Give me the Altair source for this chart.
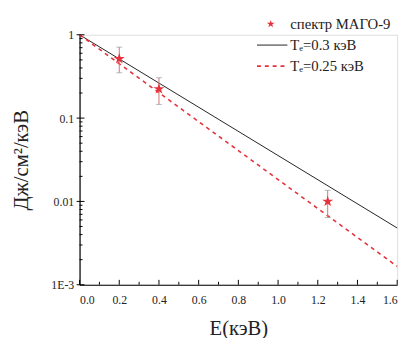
import altair as alt
import pandas as pd

# ---- data ----
exp_E = [0.2, 0.4, 1.25]
exp_val = [0.515, 0.224, 0.0100]
exp_lo = [0.35, 0.146, 0.0064]
exp_hi = [0.71, 0.305, 0.0136]

line_E = [0.0, 1.6]
fit_03 = [1.0, 0.0048]     # T_e = 0.3 keV
fit_025 = [1.0, 0.00166]   # T_e = 0.25 keV

x_major = [0.0, 0.2, 0.4, 0.6, 0.8, 1.0, 1.2, 1.4, 1.6]
x_minor = [0.1, 0.3, 0.5, 0.7, 0.9, 1.1, 1.3, 1.5]
y_major = [0.001, 0.01, 0.1, 1.0]
y_minor = [m * d for d in [0.001, 0.01, 0.1] for m in range(2, 10)]

legend_labels = ["спектр МАГО-9", "Tₑ=0.3 кэВ", "Tₑ=0.25 кэВ"]

W, H = 324, 255
RED = "#e5323c"
FONT = "Liberation Serif"

xs = alt.Scale(domain=[0, 1.6], nice=False, zero=False)
ys = alt.Scale(type="log", domain=[0.001, 1], nice=False)

df_exp = pd.DataFrame({"E": exp_E, "v": exp_val, "lo": exp_lo, "hi": exp_hi})
df_l1 = pd.DataFrame({"E": line_E, "v": fit_03})
df_l2 = pd.DataFrame({"E": line_E, "v": fit_025})

xaxis = alt.Axis(values=x_major, format=".1f", ticks=False, grid=False,
                 domainColor="black", domainWidth=1.2, labelFont=FONT, labelFontSize=12,
                 labelColor="#222", labelPadding=10, title="E(кэВ)", titleFont=FONT,
                 titleFontSize=21, titleFontWeight="normal", titleColor="#222", titlePadding=13)
yaxis = alt.Axis(values=y_major, ticks=False, grid=False,
                 labelExpr="datum.value >= 0.01 ? format(datum.value, '~g') : '1E-3'",
                 domainColor="black", domainWidth=1.2, labelFont=FONT, labelFontSize=12,
                 labelColor="#222", labelPadding=6, title="Дж/см²/кэВ", titleFont=FONT,
                 titleFontSize=21, titleFontWeight="normal", titleColor="#222", titlePadding=20)

line1 = alt.Chart(df_l1).mark_line(color="#222", strokeWidth=1).encode(
    x=alt.X("E:Q", scale=xs, axis=xaxis), y=alt.Y("v:Q", scale=ys, axis=yaxis))
line2 = alt.Chart(df_l2).mark_line(color=RED, strokeWidth=1.6, strokeDash=[4, 4]).encode(
    x=alt.X("E:Q", scale=xs), y=alt.Y("v:Q", scale=ys))

err = alt.Chart(df_exp).mark_rule(color="#c77", strokeWidth=1).encode(
    x=alt.X("E:Q", scale=xs), y=alt.Y("lo:Q", scale=ys), y2="hi:Q")
cap_hi = alt.Chart(df_exp).mark_tick(color="#999", orient="horizontal", size=6, thickness=1).encode(
    x=alt.X("E:Q", scale=xs), y=alt.Y("hi:Q", scale=ys))
cap_lo = alt.Chart(df_exp).mark_tick(color="#999", orient="horizontal", size=6, thickness=1).encode(
    x=alt.X("E:Q", scale=xs), y=alt.Y("lo:Q", scale=ys))

STAR = "M0,-1L0.2245,-0.309L0.9511,-0.309L0.3633,0.118L0.5878,0.809L0,0.382L-0.5878,0.809L-0.3633,0.118L-0.9511,-0.309L-0.2245,-0.309Z"
pts = alt.Chart(df_exp).mark_point(shape=STAR, filled=True, color=RED, size=140, opacity=1).encode(
    x=alt.X("E:Q", scale=xs), y=alt.Y("v:Q", scale=ys))

# inner ticks
df_xM = pd.DataFrame({"t": x_major})
df_xm = pd.DataFrame({"t": x_minor})
df_yM = pd.DataFrame({"t": y_major})
df_ym = pd.DataFrame({"t": y_minor})
xt_major = alt.Chart(df_xM).mark_rule(color="black", strokeWidth=1).encode(
    x=alt.X("t:Q", scale=xs), y=alt.value(H), y2=alt.value(H - 5))
xt_minor = alt.Chart(df_xm).mark_rule(color="black", strokeWidth=1).encode(
    x=alt.X("t:Q", scale=xs), y=alt.value(H), y2=alt.value(H - 3))
yt_major = alt.Chart(df_yM).mark_rule(color="black", strokeWidth=1).encode(
    y=alt.Y("t:Q", scale=ys), x=alt.value(-3), x2=alt.value(5))
yt_minor = alt.Chart(df_ym).mark_rule(color="black", strokeWidth=1).encode(
    y=alt.Y("t:Q", scale=ys), x=alt.value(0), x2=alt.value(3))

# legend
LX, LY, DY = 215, -11, 21.5
one = pd.DataFrame({"k": [0]})
leg_layers = []
for i, lab in enumerate(legend_labels):
    leg_layers.append(
        alt.Chart(one).mark_text(align="left", baseline="middle", font=FONT, fontSize=15,
                                 color="#222", text=lab).encode(
            x=alt.value(LX), y=alt.value(LY + i * DY)))
leg_star = alt.Chart(one).mark_point(shape=STAR, filled=True, color=RED, size=70, opacity=1).encode(
    x=alt.value(195), y=alt.value(LY))
leg_l1 = alt.Chart(one).mark_rule(color="#222", strokeWidth=1).encode(
    x=alt.value(181), x2=alt.value(212), y=alt.value(LY + DY))
leg_l2 = alt.Chart(one).mark_rule(color=RED, strokeWidth=1.6, strokeDash=[4, 4]).encode(
    x=alt.value(181), x2=alt.value(212), y=alt.value(LY + 2 * DY))

chart = alt.layer(
    line1, line2, err, cap_hi, cap_lo, pts,
    xt_major, xt_minor, yt_major, yt_minor,
    *leg_layers, leg_star, leg_l1, leg_l2,
).properties(
    width=W, height=H,
    autosize=alt.AutoSizeParams(type="none"),
    padding={"left": 73, "top": 24, "right": 9, "bottom": 51},
).configure_view(stroke=None).configure(background="white", font=FONT)

chart.save("out.html", embed_options={"renderer": "svg", "actions": False})
